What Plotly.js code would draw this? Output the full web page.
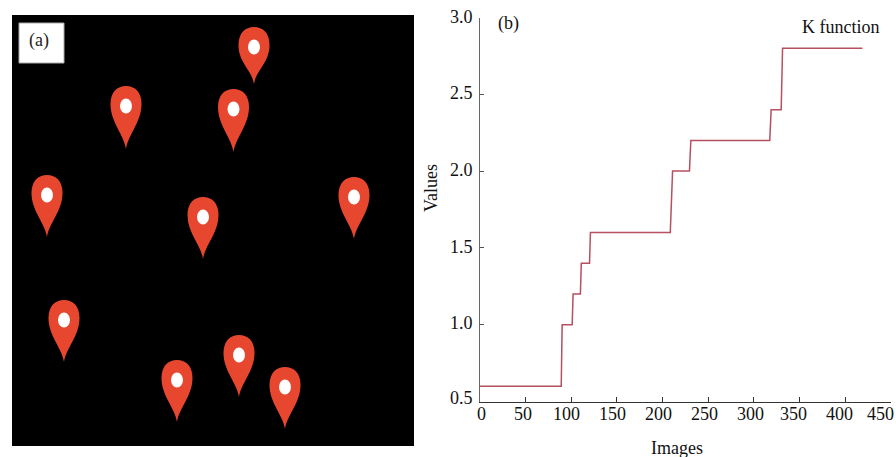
<!DOCTYPE html>
<html>
<head>
<meta charset="utf-8">
<script src="https://cdn.plot.ly/plotly-3.0.1.min.js"></script>
<style>html,body{margin:0;padding:0;background:#fff}#c{width:896px;height:457px}</style>
</head>
<body>
<div id="c"></div>
<script>
// Panel (b): K function step curve
var imagesX = [0, 89, 90, 101, 102, 110, 111, 120, 121, 208.5, 211, 229.5, 231, 317.5, 319, 330, 331.5, 419];
var kValues = [0.6, 0.6, 1.0, 1.0, 1.2, 1.2, 1.4, 1.4, 1.6, 1.6, 2.0, 2.0, 2.2, 2.2, 2.4, 2.4, 2.8, 2.8];
var xTicks = [0, 50, 100, 150, 200, 250, 300, 350, 400, 450];
var yTicks = [0.5, 1.0, 1.5, 2.0, 2.5, 3.0];
var yTickLabels = ['0.5', '1.0', '1.5', '2.0', '2.5', '3.0'];
// Label nudges in px: the reference's labels drift away from their ticks
var xLabelShift = [1, -3, -5, -4, -4, -4, -3, -6, -6, -10];
var yLabelShift = [4, 2, 1, 1, 1, 0];

// Panel (a): location pins, head centre and tip in panel units
var pinX    = [254, 126, 233.5, 47, 203, 354, 64, 239, 177, 285];
var pinHead = [47, 106, 109, 195, 217, 197, 320, 355, 380, 387];
var pinTip  = [84, 149, 152, 237, 259, 239, 362, 397, 422, 429];

var W = 896, H = 457;
var serif = '"Liberation Serif", "Times New Roman", serif';
var ink = '#111';
var pinRed = '#e8472f';
var textFont = {family: serif, size: 18, color: ink};

function pinPath(x, head, tip) {
  var r = 15.5, top = head - 20, b = head - 2;
  return 'M ' + x + ' ' + tip +
    ' C ' + (x - 2) + ' ' + (tip - 14) + ' ' + (x - r) + ' ' + (b + 18) + ' ' + (x - r) + ' ' + b +
    ' C ' + (x - r) + ' ' + (top + 6) + ' ' + (x - 9) + ' ' + top + ' ' + x + ' ' + top +
    ' C ' + (x + 9) + ' ' + top + ' ' + (x + r) + ' ' + (top + 6) + ' ' + (x + r) + ' ' + b +
    ' C ' + (x + r) + ' ' + (b + 18) + ' ' + (x + 2) + ' ' + (tip - 14) + ' ' + x + ' ' + tip + ' Z';
}

var shapes = [{
  type: 'rect', xref: 'x2', yref: 'y2', x0: 12, x1: 414, y0: 15, y1: 446,
  fillcolor: '#000', line: {width: 0}, layer: 'below'
}, {
  type: 'rect', xref: 'x2', yref: 'y2', x0: 19, x1: 64, y0: 23, y1: 63,
  fillcolor: '#fff', line: {width: 1, color: '#aaa'}, layer: 'below'
}];
pinX.forEach(function (x, i) {
  shapes.push({
    type: 'path', xref: 'x2', yref: 'y2', path: pinPath(x, pinHead[i], pinTip[i]),
    fillcolor: pinRed, line: {width: 0}, layer: 'below'
  });
  shapes.push({
    type: 'circle', xref: 'x2', yref: 'y2',
    x0: x - 6, x1: x + 6, y0: pinHead[i] - 7.5, y1: pinHead[i] + 7.5,
    fillcolor: '#fff', line: {width: 0}, layer: 'below'
  });
});

var annotations = [
  {xref: 'x2', yref: 'y2', x: 38.5, y: 41, text: '(a)', font: {family: serif, size: 18, color: '#222'}},
  {xref: 'paper', yref: 'paper', x: 508 / W, y: 1 - 23 / H, text: '(b)', font: textFont},
  {xref: 'paper', yref: 'paper', x: 840 / W, y: 1 - 27 / H, text: 'K function', font: textFont},
  {xref: 'paper', yref: 'paper', x: 677 / W, y: 1 - 448 / H, text: 'Images', font: textFont},
  {xref: 'paper', yref: 'paper', x: 431 / W, y: 1 - 188 / H, text: 'Values', textangle: -90, font: textFont}
];
xTicks.forEach(function (t, i) {
  annotations.push({
    xref: 'x', yref: 'paper', x: t, y: 1 - 414 / H, xshift: xLabelShift[i],
    text: String(t), font: textFont
  });
});
yTicks.forEach(function (t, i) {
  annotations.push({
    xref: 'paper', yref: 'y', x: 461 / W, y: t, yshift: yLabelShift[i],
    text: yTickLabels[i], font: textFont
  });
});
annotations.forEach(function (a) {
  a.showarrow = false;
  a.xanchor = 'center';
  a.yanchor = 'middle';
});

var traces = [{
  x: imagesX, y: kValues, type: 'scatter', mode: 'lines', xaxis: 'x', yaxis: 'y',
  line: {color: '#b4505f', width: 1.5}, hoverinfo: 'skip', showlegend: false
}, {
  x: pinX, y: pinHead, type: 'scatter', mode: 'markers', xaxis: 'x2', yaxis: 'y2',
  marker: {color: 'rgba(0,0,0,0)', size: 1}, hoverinfo: 'skip', showlegend: false
}];

var layout = {
  width: W, height: H, margin: {l: 0, r: 0, t: 0, b: 0},
  paper_bgcolor: '#fff', plot_bgcolor: 'rgba(0,0,0,0)',
  font: textFont,
  showlegend: false,
  xaxis: {
    domain: [480 / W, 890.7 / W], range: [0, 450], anchor: 'y',
    tickvals: xTicks, ticks: 'inside', ticklen: 5, tickcolor: '#333', tickwidth: 1,
    showticklabels: false,
    showline: true, linecolor: '#333', linewidth: 1, showgrid: false, zeroline: false,
    automargin: false
  },
  yaxis: {
    domain: [1 - 401.5 / H, 1 - 17.5 / H], range: [0.5, 3.0], anchor: 'x',
    tickvals: yTicks, ticks: 'inside', ticklen: 4, tickcolor: '#555', tickwidth: 1,
    showticklabels: false,
    showline: true, linecolor: '#666', linewidth: 1.5, showgrid: false, zeroline: false,
    automargin: false
  },
  xaxis2: {domain: [12 / W, 414 / W], range: [12, 414], anchor: 'y2', visible: false, fixedrange: true},
  yaxis2: {domain: [1 - 446 / H, 1 - 15 / H], range: [446, 15], anchor: 'x2', visible: false, fixedrange: true},
  shapes: shapes,
  annotations: annotations
};

Plotly.newPlot('c', traces, layout, {displayModeBar: false, staticPlot: true});
</script>
</body>
</html>
